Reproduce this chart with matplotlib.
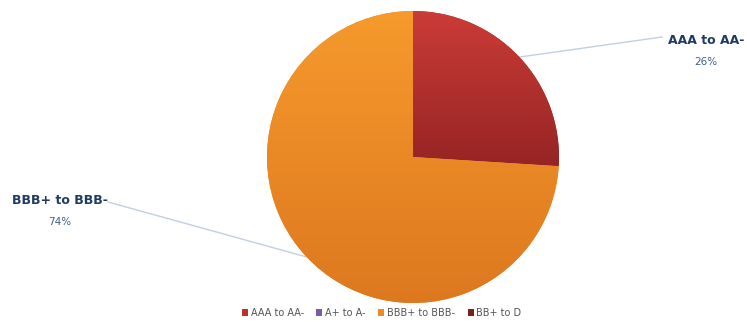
import numpy as np
import matplotlib.pyplot as plt
from matplotlib.patches import Patch
from matplotlib.colors import LinearSegmentedColormap

categories = ["AAA to AA-", "A+ to A-", "BBB+ to BBB-", "BB+ to D"]
shares = [26, 0, 74, 0]
colors = ["#b9322f", "#7a5ca6", "#ee8b26", "#7b1e1e"]
# top / bottom shades for the slice gradients
shades = {"AAA to AA-": ("#cb3c37", "#962424"),
          "BBB+ to BBB-": ("#f69a2c", "#dd781f")}

fig = plt.figure(figsize=(7.47, 3.27), dpi=100)
ax = fig.add_axes([0, 0, 1, 1])

cx, cy, r = 413, 170, 146
wedges, _ = ax.pie(shares, colors=colors, startangle=90, counterclock=False,
                   center=(cx, cy), radius=r, frame=True)
ax.set_xlim(0, 747)
ax.set_ylim(0, 327)
ax.set_aspect("equal")
ax.axis("off")

grad = np.linspace(1, 0, 256).reshape(-1, 1)
for w, name, val in zip(wedges, categories, shares):
    if val == 0:
        continue
    ext = w.get_path().get_extents()
    cmap = LinearSegmentedColormap.from_list(name, [shades[name][1], shades[name][0]])
    im = ax.imshow(grad, cmap=cmap, extent=(ext.x0, ext.x1, ext.y0, ext.y1),
                   aspect="auto", zorder=w.get_zorder() + 0.1, origin="upper")
    im.set_clip_path(w)

# labels with leader lines from the middle of each non-empty wedge
label_pos = {"AAA to AA-": (706, 287), "BBB+ to BBB-": (60, 127)}
line_end = {"AAA to AA-": (662, 290), "BBB+ to BBB-": (108, 125)}
for w, name, val in zip(wedges, categories, shares):
    if val == 0:
        continue
    mid = np.deg2rad((w.theta1 + w.theta2) / 2)
    x0, y0 = cx + r * np.cos(mid), cy + r * np.sin(mid)
    x1, y1 = line_end[name]
    ax.plot([x0, x1], [y0, y1], color="#c2cfe2", lw=1, zorder=0)
    tx, ty = label_pos[name]
    ax.text(tx, ty, name, ha="center", va="center", fontsize=9,
            fontweight="bold", color="#1f3a63")
    ax.text(tx, ty - 22, f"{val}%", ha="center", va="center", fontsize=7.5,
            color="#3f5f8a")

ax.set_xlim(0, 747)
ax.set_ylim(0, 327)

handles = [Patch(facecolor=c, edgecolor="none") for c in colors]
fig.legend(handles, categories, loc="center", bbox_to_anchor=(0.511, 0.043),
           ncol=4, frameon=False, fontsize=7, handlelength=0.6,
           handleheight=0.6, handletextpad=0.3, columnspacing=1.3,
           labelcolor="#555555")

fig.savefig("out.png", dpi=100)
